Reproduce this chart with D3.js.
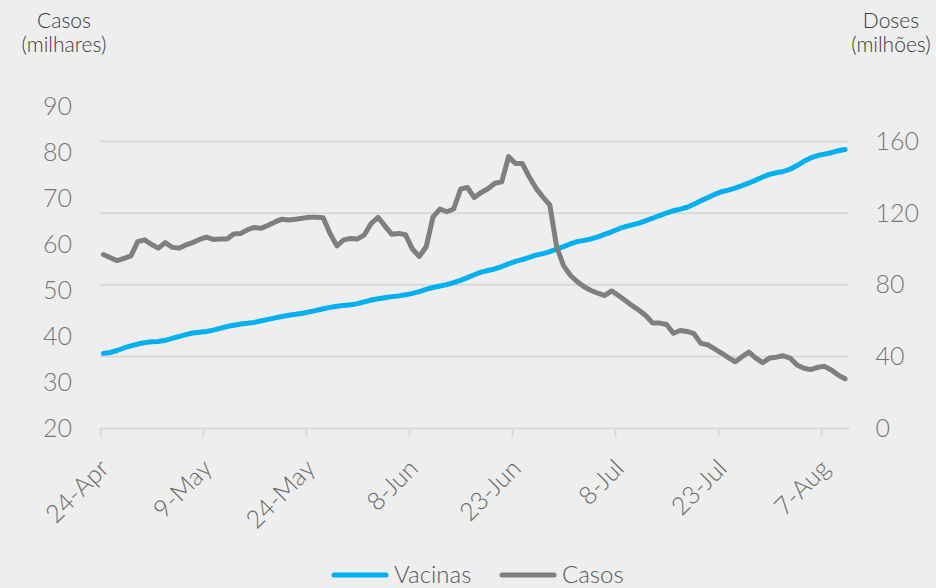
<!doctype html>
<html>
<head>
<meta charset="utf-8">
<style>
  html, body { margin: 0; padding: 0; background: #eeeeee; }
  svg { display: block; font-family: Lato, 'Open Sans', sans-serif; font-weight: 300; }
</style>
<script src="https://d3js.org/d3.v7.min.js"></script>
</head>
<body>
<svg id="chart" width="936" height="588"></svg>
<script>
// daily data, 24-Apr-2021 to 10-Aug-2021
const startDay = "24-Apr-2021";
const endDay = "11-Aug-2021";   // axis ends one day after the last point

// Casos (milhares), 7-day average
const casos = [
  57.7, 57.0, 56.4, 56.9, 57.4, 60.5, 60.9, 59.9, 59.1, 60.3,
  59.3, 59.1, 59.8, 60.3, 61.0, 61.5, 61.0, 61.1, 61.1, 62.2,
  62.3, 63.1, 63.6, 63.4, 64.1, 64.8, 65.4, 65.2, 65.4, 65.6,
  65.8, 65.8, 65.7, 62.3, 59.6, 60.9, 61.2, 61.1, 62.0, 64.5,
  65.8, 63.9, 62.1, 62.3, 62.0, 58.9, 57.3, 59.4, 65.9, 67.6,
  67.0, 67.6, 71.9, 72.3, 70.1, 71.2, 72.0, 73.2, 73.5, 79.0,
  77.5, 77.5, 74.6, 72.1, 70.2, 68.5, 59.4, 55.3, 53.2, 51.8,
  50.7, 49.9, 49.3, 48.8, 49.8, 48.8, 47.7, 46.6, 45.6, 44.4,
  42.8, 42.8, 42.5, 40.6, 41.2, 41.0, 40.5, 38.4, 38.1, 37.2,
  36.3, 35.3, 34.4, 35.5, 36.5, 35.2, 34.2, 35.2, 35.4, 35.7,
  35.2, 33.7, 33.0, 32.7, 33.2, 33.4, 32.6, 31.5, 30.7
];

// Vacinas, doses (milhões)
const vacinas = [
  41.7, 42.2, 43.3, 44.7, 45.9, 46.9, 47.7, 48.2, 48.3, 49.0,
  50.1, 51.1, 52.2, 53.1, 53.5, 53.9, 54.7, 55.7, 56.7, 57.4,
  58.1, 58.5, 59.0, 59.9, 60.7, 61.5, 62.3, 63.0, 63.5, 64.1,
  64.9, 65.7, 66.6, 67.4, 68.0, 68.5, 68.8, 69.5, 70.5, 71.5,
  72.2, 72.8, 73.4, 73.8, 74.4, 75.2, 76.2, 77.4, 78.5, 79.3,
  80.1, 81.2, 82.5, 84.0, 85.6, 87.1, 88.0, 88.9, 90.2, 91.7,
  93.1, 94.1, 95.3, 96.6, 97.4, 98.5, 99.9, 101.3, 102.8, 104.1,
  104.8, 105.6, 106.8, 108.2, 109.6, 111.2, 112.5, 113.5, 114.5, 115.8,
  117.2, 118.7, 120.1, 121.4, 122.3, 123.3, 125.0, 126.9, 128.7, 130.5,
  132.0, 132.9, 134.0, 135.4, 136.9, 138.5, 140.2, 141.7, 142.6, 143.3,
  144.6, 146.6, 149.0, 150.9, 152.2, 153.0, 153.8, 154.9, 155.6
];

const xTickLabels = ["24-Apr", "9-May", "24-May", "8-Jun", "23-Jun", "8-Jul", "23-Jul", "7-Aug"];
const leftTicks = [20, 30, 40, 50, 60, 70, 80, 90];
const rightTicks = [0, 40, 80, 120, 160];
const seriesNames = ["Vacinas", "Casos"];

const parse = d3.timeParse("%d-%b-%Y");
const t0 = parse(startDay), t1 = parse(endDay);
const days = casos.map((_, i) => d3.timeHour.offset(d3.timeDay.offset(t0, i), 12));
const tickDates = xTickLabels.map(s => parse(s + "-2021"));

const blue = "#00b0f0", grey = "#7f7f7f";

const svg = d3.select("#chart");
const left = 100, right = 848.5, bottom = 428;

const x = d3.scaleTime().domain([t0, t1]).range([left, right]);
const yL = d3.scaleLinear().domain([20, 90]).range([bottom, 106]);
const yR = d3.scaleLinear().domain([0, 160]).range([bottom, 141.6]);

// gridlines
svg.append("g")
  .selectAll("line")
  .data(rightTicks.filter(d => d > 0))
  .join("line")
  .attr("x1", left).attr("x2", right)
  .attr("y1", d => yR(d)).attr("y2", d => yR(d))
  .attr("stroke", "#d9d9d9").attr("stroke-width", 2);

// x axis
const gx = svg.append("g")
  .attr("transform", "translate(0," + bottom + ")")
  .call(d3.axisBottom(x).tickValues(tickDates).tickSize(9).tickSizeOuter(0)
        .tickFormat((d, i) => xTickLabels[i]));
gx.select(".domain").attr("stroke", "#d9d9d9").attr("stroke-width", 2);
gx.selectAll(".tick line").attr("stroke", "#d9d9d9").attr("stroke-width", 2);
gx.selectAll(".tick text")
  .attr("x", 0).attr("y", 0).attr("dy", 0)
  .attr("transform", "translate(10,42) rotate(-45)")
  .style("text-anchor", "end")
  .attr("fill", "#6a6a6a")
  .style("font-size", "25px")
  .style("font-family", "Lato, 'Open Sans', sans-serif");

// left axis (Casos)
const gl = svg.append("g")
  .attr("transform", "translate(" + left + ",0)")
  .call(d3.axisLeft(yL).tickValues(leftTicks).tickSize(0).tickPadding(28));
gl.select(".domain").remove();
gl.selectAll(".tick text")
  .attr("fill", "#767676")
  .style("font-size", "25px")
  .style("font-family", "Lato, 'Open Sans', sans-serif");

// right axis (Doses)
const gr = svg.append("g")
  .attr("transform", "translate(" + right + ",0)")
  .call(d3.axisRight(yR).tickValues(rightTicks).tickSize(0).tickPadding(27));
gr.select(".domain").remove();
gr.selectAll(".tick text")
  .attr("fill", "#767676")
  .style("font-size", "25px")
  .style("font-family", "Lato, 'Open Sans', sans-serif");

// axis titles
function title(lines, cx) {
  svg.append("text")
    .attr("text-anchor", "middle")
    .attr("fill", "#3a3a3a")
    .style("font-size", "21px")
    .selectAll("tspan")
    .data(lines)
    .join("tspan")
    .attr("x", cx)
    .attr("y", (d, i) => 28 + i * 24)
    .text(d => d);
}
title(["Casos", "(milhares)"], 64);
title(["Doses", "(milhões)"], 891);

// lines
const lineL = d3.line().x((d, i) => x(days[i])).y(d => yL(d));
const lineR = d3.line().x((d, i) => x(days[i])).y(d => yR(d));

svg.append("path").datum(vacinas)
  .attr("d", lineR)
  .attr("fill", "none").attr("stroke", blue).attr("stroke-width", 5)
  .attr("stroke-linejoin", "round").attr("stroke-linecap", "round");

svg.append("path").datum(casos)
  .attr("d", lineL)
  .attr("fill", "none").attr("stroke", grey).attr("stroke-width", 5)
  .attr("stroke-linejoin", "round").attr("stroke-linecap", "round");

// legend
const legendX = [334, 502];
const legend = svg.append("g");
seriesNames.forEach((name, i) => {
  const g = legend.append("g").attr("transform", "translate(" + legendX[i] + ",575)");
  g.append("line").attr("x1", 0).attr("x2", 52)
    .attr("stroke", i === 0 ? blue : grey).attr("stroke-width", 5)
    .attr("stroke-linecap", "round");
  g.append("text").attr("x", 60).attr("y", 8)
    .attr("fill", "#595959").style("font-size", "24px")
    .text(name);
});
</script>
</body>
</html>
